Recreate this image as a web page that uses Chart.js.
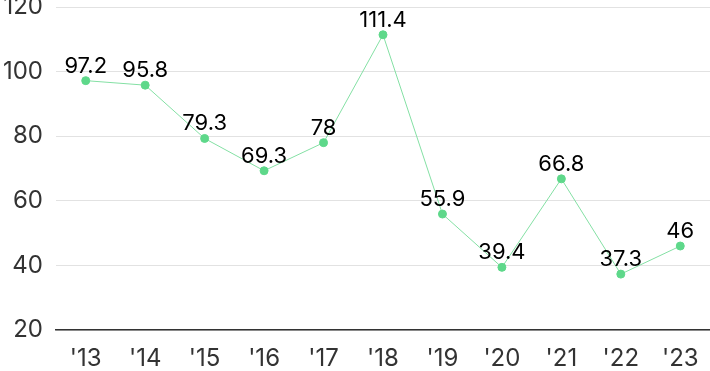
<!DOCTYPE html>
<html><head><meta charset="utf-8">
<script src="https://cdn.jsdelivr.net/npm/chart.js@4/dist/chart.umd.min.js"></script>
<style>html,body{margin:0;padding:0;background:#fff;overflow:hidden;}#wrap{width:710px;height:371px;overflow:hidden;}</style>
</head><body><div id="wrap"><canvas id="c" width="715" height="371"></canvas></div>
<script>
const categories = ["'13","'14","'15","'16","'17","'18","'19","'20","'21","'22","'23"];
const values = [97.2,95.8,79.3,69.3,78,111.4,55.9,39.4,66.8,37.3,46];
const yTicks = [20,40,60,80,100,120];

const FONT = "Inter, 'Noto Sans CJK KR', sans-serif";

const labelPlugin = {
  id:'valLabels',
  afterDatasetsDraw(chart){
    const ctx = chart.ctx;
    const meta = chart.getDatasetMeta(0);
    ctx.save();
    ctx.font = "22px " + FONT;
    ctx.fillStyle = '#000';
    ctx.textAlign = 'center';
    ctx.textBaseline = 'alphabetic';
    meta.data.forEach((pt,i)=>{
      ctx.fillText(String(values[i]), pt.x, pt.y - 8);
    });
    ctx.restore();
  }
};

new Chart(document.getElementById('c'), {
  type:'line',
  data:{labels:categories, datasets:[{
    data:values,
    borderColor:'#84e0a4',
    borderWidth:1,
    pointBackgroundColor:'#5ed88a',
    pointBorderColor:'#5ed88a',
    pointRadius:4,
    tension:0
  }]},
  options:{
    responsive:false, animation:false,
    layout:{padding:{top:7,right:0,left:0,bottom:0}},
    plugins:{legend:{display:false}, tooltip:{enabled:false}},
    scales:{
      x:{
        offset:true,
        grid:{display:false, drawTicks:false},
        border:{display:true,color:'#333',width:1.5},
        ticks:{color:'#333', font:{family:FONT,size:24}, padding:14, maxRotation:0},
        afterFit(s){ s.height = 41; s.paddingLeft = 0; s.paddingRight = 0; }
      },
      y:{
        min:20, max:120,
        afterBuildTicks(s){ s.ticks = yTicks.map(v=>({value:v})); },
        grid:{color:'#e2e2e2', drawTicks:false},
        border:{display:false},
        ticks:{color:'#333', font:{family:FONT,size:24}, padding:13},
        afterFit(s){ s.width = 56; s.paddingTop = 0; s.paddingBottom = 0; }
      }
    }
  },
  plugins:[labelPlugin]
});
</script></body></html>
